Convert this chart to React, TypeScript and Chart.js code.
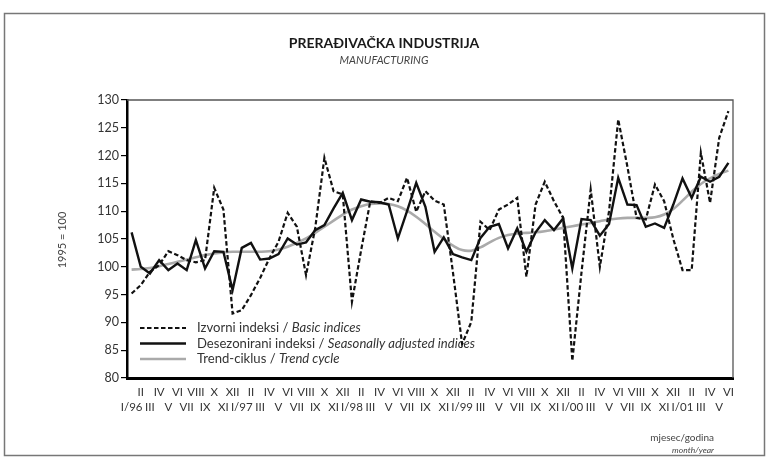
import React, { useEffect, useRef } from 'react';
import { Chart, registerables } from 'chart.js';

Chart.register(...registerables);

const monthLabels = [
  'I/96', 'II', 'III', 'IV', 'V', 'VI', 'VII', 'VIII', 'IX', 'X', 'XI', 'XII',
  'I/97', 'II', 'III', 'IV', 'V', 'VI', 'VII', 'VIII', 'IX', 'X', 'XI', 'XII',
  'I/98', 'II', 'III', 'IV', 'V', 'VI', 'VII', 'VIII', 'IX', 'X', 'XI', 'XII',
  'I/99', 'II', 'III', 'IV', 'V', 'VI', 'VII', 'VIII', 'IX', 'X', 'XI', 'XII',
  'I/00', 'II', 'III', 'IV', 'V', 'VI', 'VII', 'VIII', 'IX', 'X', 'XI', 'XII',
  'I/01', 'II', 'III', 'IV', 'V', 'VI',
];

const basicIndices = [
  95.2, 96.7, 99.1, 100.3, 102.8, 102.1, 101.2, 100.8, 101.2, 114.2, 110.3, 91.6,
  92.2, 94.9, 98.0, 101.5, 104.5, 109.7, 107.2, 98.5, 107.0, 119.6, 113.6, 113.0,
  93.7, 103.0, 111.8, 111.5, 112.4, 111.8, 116.0, 109.9, 113.6, 111.9, 111.2, 99.0,
  86.1, 90.1, 108.1, 106.6, 110.3, 111.2, 112.4, 98.2, 111.2, 115.3, 111.8, 108.8,
  83.1, 99.0, 113.9, 100.0, 110.0, 126.5, 118.0, 108.8, 108.5, 114.8, 111.8, 105.0,
  99.4, 99.4, 120.5, 111.5, 123.2, 128.0,
];

const seasonallyAdjusted = [
  106.2, 100.0, 98.8, 101.2, 99.4, 100.6, 99.4, 104.8, 99.7, 102.8, 102.7, 95.8,
  103.4, 104.3, 101.3, 101.5, 102.3, 105.1, 104.0, 104.4, 106.6, 107.5, 110.5, 113.3,
  108.4, 112.1, 111.7, 111.6, 111.2, 105.1, 110.0, 115.1, 110.8, 102.7, 105.3, 102.3,
  101.7, 101.2, 105.2, 107.2, 107.7, 103.3, 106.9, 102.7, 106.2, 108.4, 106.6, 108.7,
  99.7, 108.6, 108.4, 105.6, 107.7, 116.0, 111.2, 111.1, 107.2, 107.8, 107.0, 111.2,
  115.9, 112.4, 116.2, 115.3, 116.2, 118.7,
];

const trendCycle = [
  99.5, 99.6, 99.8, 100.1, 100.5, 100.9, 101.3, 101.7, 102.1, 102.4, 102.6, 102.7,
  102.7, 102.7, 102.7, 102.8, 103.1, 103.6, 104.3, 105.1, 106.1, 107.2, 108.3, 109.4,
  110.3, 110.9, 111.3, 111.4, 111.3, 110.9, 110.1, 109.0, 107.7, 106.3, 105.0, 103.8,
  103.0, 102.9, 103.5, 104.4, 105.2, 105.7, 106.0, 106.1, 106.2, 106.4, 106.7, 107.0,
  107.3, 107.6, 107.9, 108.2, 108.5, 108.7, 108.8, 108.8, 108.8, 108.9, 109.4, 110.4,
  111.9, 113.5, 114.9, 115.9, 116.7, 117.3,
];

const yMin = 80;
const yMax = 130;
const yStep = 5;

const FONT = "Lato, 'Open Sans', sans-serif";

const legendItems = [
  { a: 'Izvorni indeksi / ', b: 'Basic indices', color: '#111', width: 2.2, dash: [4.5, 2.5] },
  { a: 'Desezonirani indeksi / ', b: 'Seasonally adjusted indices', color: '#111', width: 2.4, dash: [] as number[] },
  { a: 'Trend-ciklus / ', b: 'Trend cycle', color: '#aaaaaa', width: 2.6, dash: [] as number[] },
];

const decorPlugin = {
  id: 'decor',
  beforeDraw(chart: any) {
    const ctx = chart.ctx;
    ctx.save();
    ctx.fillStyle = '#ffffff';
    ctx.fillRect(0, 0, chart.width, chart.height);
    ctx.strokeStyle = '#777';
    ctx.lineWidth = 1.5;
    ctx.strokeRect(4.5, 13.5, 760, 442);

    ctx.textAlign = 'center';
    ctx.textBaseline = 'alphabetic';
    ctx.fillStyle = '#1a1a1a';
    ctx.font = `bold 14px ${FONT}`;
    ctx.fillText('PRERAĐIVAČKA INDUSTRIJA', 384, 48);
    ctx.fillStyle = '#444';
    ctx.font = `italic 11px ${FONT}`;
    ctx.fillText('MANUFACTURING', 384, 64);

    ctx.save();
    ctx.translate(62, 240);
    ctx.rotate(-Math.PI / 2);
    ctx.textBaseline = 'middle';
    ctx.font = `11px ${FONT}`;
    ctx.fillStyle = '#444';
    ctx.fillText('1995 = 100', 0, 0);
    ctx.restore();

    ctx.textAlign = 'right';
    ctx.fillStyle = '#444';
    ctx.font = `10px ${FONT}`;
    ctx.fillText('mjesec/godina', 714, 441);
    ctx.font = `italic 8.5px ${FONT}`;
    ctx.fillText('month/year', 714, 453);
    ctx.restore();
  },
  beforeDatasetsDraw(chart: any) {
    const ctx = chart.ctx;
    const area = chart.chartArea;
    ctx.save();
    const x0 = area.left + 13;
    const ys = [area.bottom - 50, area.bottom - 34.5, area.bottom - 19];
    legendItems.forEach((it, i) => {
      const y = ys[i];
      ctx.beginPath();
      ctx.setLineDash(it.dash);
      ctx.strokeStyle = it.color;
      ctx.lineWidth = it.width;
      ctx.moveTo(x0, y);
      ctx.lineTo(x0 + 46, y);
      ctx.stroke();
      ctx.setLineDash([]);
      ctx.fillStyle = '#333';
      ctx.textAlign = 'left';
      ctx.textBaseline = 'middle';
      ctx.font = `13.1px ${FONT}`;
      ctx.fillText(it.a, x0 + 57, y);
      const w = ctx.measureText(it.a).width;
      ctx.font = `italic 13.1px ${FONT}`;
      ctx.fillText(it.b, x0 + 57 + w, y);
    });
    ctx.restore();
  },
  afterDraw(chart: any) {
    const ctx = chart.ctx;
    const a = chart.chartArea;
    ctx.save();
    ctx.strokeStyle = '#555';
    ctx.lineWidth = 1.3;
    ctx.beginPath();
    ctx.moveTo(a.left, a.top);
    ctx.lineTo(a.right, a.top);
    ctx.lineTo(a.right, a.bottom);
    ctx.stroke();
    ctx.restore();
  },
};

export default function App() {
  const ref = useRef<HTMLCanvasElement | null>(null);

  useEffect(() => {
    if (!ref.current) return;
    const chart = new Chart(ref.current, {
      type: 'line',
      data: {
        labels: monthLabels,
        datasets: [
          {
            label: 'Izvorni indeksi / Basic indices',
            data: basicIndices,
            borderColor: '#111',
            borderWidth: 2.2,
            borderDash: [4.5, 2.5],
            pointRadius: 0,
            tension: 0,
            fill: false,
            order: 0,
          },
          {
            label: 'Desezonirani indeksi / Seasonally adjusted indices',
            data: seasonallyAdjusted,
            borderColor: '#111',
            borderWidth: 2.4,
            pointRadius: 0,
            tension: 0,
            fill: false,
            order: 1,
          },
          {
            label: 'Trend-ciklus / Trend cycle',
            data: trendCycle,
            borderColor: '#aaaaaa',
            borderWidth: 2.6,
            pointRadius: 0,
            tension: 0.4,
            fill: false,
            order: 2,
          },
        ],
      },
      options: {
        responsive: false,
        animation: false,
        devicePixelRatio: 1,
        layout: { padding: { left: 0, top: 100, right: 35, bottom: 36 } },
        plugins: {
          legend: { display: false },
          title: { display: false },
          tooltip: { enabled: false },
        },
        scales: {
          x: {
            type: 'category',
            offset: true,
            grid: { display: true, drawOnChartArea: false, drawTicks: false },
            border: { display: true, color: '#000', width: 3 },
            ticks: {
              autoSkip: false,
              maxRotation: 0,
              minRotation: 0,
              padding: 7,
              color: '#333',
              font: { family: FONT, size: 11.5, lineHeight: 1.3 },
              callback: (_v: any, i: number) => (i % 2 === 0 ? ['', monthLabels[i]] : [monthLabels[i], '']),
            },
            afterFit: (s: any) => { s.height = 45; },
          },
          y: {
            min: yMin,
            max: yMax,
            grid: { display: true, drawOnChartArea: false, drawTicks: true, tickLength: 6, color: '#000', lineWidth: 1.2 },
            border: { display: true, color: '#000', width: 2.5 },
            ticks: {
              stepSize: yStep,
              padding: 2,
              color: '#333',
              font: { family: FONT, size: 12.5 },
            },
            afterFit: (s: any) => { s.width = 127; },
          },
        },
      },
      plugins: [decorPlugin],
    });
    return () => chart.destroy();
  }, []);

  return (
    <div style={{ position: 'absolute', left: 0, top: 0, width: 768, height: 459, background: '#fff' }}>
      <canvas ref={ref} width={768} height={459} style={{ display: 'block', width: 768, height: 459 }} />
    </div>
  );
}
